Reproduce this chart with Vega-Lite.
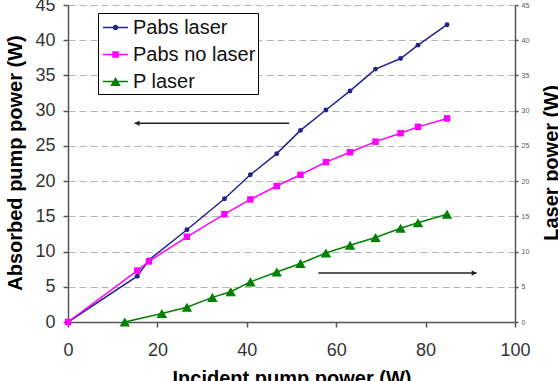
{
  "$schema": "https://vega.github.io/schema/vega-lite/v6.json",
  "width": 447,
  "height": 317,
  "autosize": {"type": "none"},
  "padding": {"left": 68, "top": 5, "right": 43, "bottom": 59},
  "background": "white",
  "config": {
    "font": "Liberation Sans",
    "view": {"stroke": null},
    "axis": {
      "domainColor": "#555555",
      "domainWidth": 1.5,
      "tickColor": "#555555",
      "tickWidth": 1.5,
      "labelFont": "Liberation Sans",
      "labelColor": "#333333",
      "labelFontSize": 18,
      "titleFont": "Liberation Sans",
      "titleFontWeight": "bold",
      "titleFontSize": 20,
      "titleColor": "#000000"
    },
    "legend": {
      "title": null,
      "orient": "none",
      "legendX": 30,
      "legendY": 8,
      "strokeColor": "#000000",
      "fillColor": "#ffffff",
      "padding": 2,
      "symbolOffset": 3,
      "symbolSize": 625,
      "symbolOpacity": 1,
      "symbolStrokeWidth": 0,
      "labelFont": "Liberation Sans",
      "labelFontSize": 20,
      "labelColor": "#111111",
      "labelOffset": 5,
      "rowPadding": 4
    }
  },
  "datasets": {
    "power": [
      {"series": "Pabs laser", "incident": 0, "power": 0},
      {"series": "Pabs laser", "incident": 15.5, "power": 6.5},
      {"series": "Pabs laser", "incident": 18.1, "power": 8.8},
      {"series": "Pabs laser", "incident": 26.6, "power": 13.1},
      {"series": "Pabs laser", "incident": 35.0, "power": 17.5},
      {"series": "Pabs laser", "incident": 40.8, "power": 20.9},
      {"series": "Pabs laser", "incident": 46.7, "power": 23.9},
      {"series": "Pabs laser", "incident": 52.0, "power": 27.2},
      {"series": "Pabs laser", "incident": 57.7, "power": 30.1},
      {"series": "Pabs laser", "incident": 63.1, "power": 32.8},
      {"series": "Pabs laser", "incident": 68.8, "power": 35.9},
      {"series": "Pabs laser", "incident": 74.4, "power": 37.4},
      {"series": "Pabs laser", "incident": 78.3, "power": 39.3},
      {"series": "Pabs laser", "incident": 84.8, "power": 42.2},
      {"series": "Pabs no laser", "incident": 0, "power": 0},
      {"series": "Pabs no laser", "incident": 15.5, "power": 7.3},
      {"series": "Pabs no laser", "incident": 18.1, "power": 8.6},
      {"series": "Pabs no laser", "incident": 26.6, "power": 12.1},
      {"series": "Pabs no laser", "incident": 35.0, "power": 15.3},
      {"series": "Pabs no laser", "incident": 40.8, "power": 17.4},
      {"series": "Pabs no laser", "incident": 46.7, "power": 19.3},
      {"series": "Pabs no laser", "incident": 52.0, "power": 20.9},
      {"series": "Pabs no laser", "incident": 57.7, "power": 22.7},
      {"series": "Pabs no laser", "incident": 63.1, "power": 24.1},
      {"series": "Pabs no laser", "incident": 68.8, "power": 25.6},
      {"series": "Pabs no laser", "incident": 74.4, "power": 26.8},
      {"series": "Pabs no laser", "incident": 78.3, "power": 27.7},
      {"series": "Pabs no laser", "incident": 84.8, "power": 28.9},
      {"series": "P laser", "incident": 12.7, "power": 0},
      {"series": "P laser", "incident": 21.0, "power": 1.2},
      {"series": "P laser", "incident": 26.6, "power": 2.1},
      {"series": "P laser", "incident": 32.3, "power": 3.5},
      {"series": "P laser", "incident": 36.4, "power": 4.3},
      {"series": "P laser", "incident": 40.8, "power": 5.7},
      {"series": "P laser", "incident": 46.7, "power": 7.1},
      {"series": "P laser", "incident": 52.0, "power": 8.3},
      {"series": "P laser", "incident": 57.7, "power": 9.8},
      {"series": "P laser", "incident": 63.1, "power": 10.9},
      {"series": "P laser", "incident": 68.8, "power": 12.0},
      {"series": "P laser", "incident": 74.4, "power": 13.3},
      {"series": "P laser", "incident": 78.3, "power": 14.1},
      {"series": "P laser", "incident": 84.8, "power": 15.3}
    ],
    "arrows": [
      {"dir": "left", "tail": 49.5, "head": 14.9, "level": 28.2},
      {"dir": "right", "tail": 56.0, "head": 91.4, "level": 6.95}
    ]
  },
  "layer": [
    {
      "data": {"name": "power"},
      "mark": {"type": "point", "filled": true, "opacity": 0, "size": 625},
      "encoding": {
        "color": {
          "field": "series",
          "type": "nominal",
          "scale": {
            "domain": ["Pabs laser", "Pabs no laser", "P laser"],
            "range": ["#22228a", "#ff00ff", "#008000"]
          }
        },
        "shape": {
          "field": "series",
          "type": "nominal",
          "scale": {
            "domain": ["Pabs laser", "Pabs no laser", "P laser"],
            "range": [
              "M-1,-0.06H1V0.06H-1ZM-0.22,0A0.22,0.22,0,1,1,0.22,0A0.22,0.22,0,1,1,-0.22,0Z",
              "M-1,-0.06H1V0.06H-1ZM-0.26,-0.26H0.26V0.26H-0.26Z",
              "M-1,-0.06H1V0.06H-1ZM0,-0.36L0.42,0.36L-0.42,0.36Z"
            ]
          }
        }
      }
    },
    {
      "data": {"name": "power"},
      "transform": [{"filter": "datum.series !== 'P laser'"}],
      "encoding": {
        "x": {
          "field": "incident",
          "type": "quantitative",
          "title": "Incident pump power (W)",
          "scale": {"domain": [0, 100], "nice": false},
          "axis": {
            "values": [0, 20, 40, 60, 80, 100],
            "tickSize": 5,
            "labelPadding": 14,
            "labelFlush": false,
            "grid": false,
            "titleY": 62,
            "titleBaseline": "alphabetic"
          }
        },
        "y": {
          "field": "power",
          "type": "quantitative",
          "title": "Absorbed pump power (W)",
          "scale": {"domain": [0, 45], "nice": false},
          "axis": {
            "orient": "left",
            "values": [0, 5, 10, 15, 20, 25, 30, 35, 40, 45],
            "tickSize": 5,
            "labelPadding": 8,
            "labelFlush": false,
            "grid": true,
            "gridDash": [7, 4],
            "gridColor": "#b4b4b4",
            "gridWidth": 1,
            "titleAngle": 270,
            "titleX": -47,
            "titleY": 157.5,
            "titleAlign": "center",
            "titleBaseline": "alphabetic"
          }
        },
        "color": {"field": "series", "type": "nominal"}
      },
      "layer": [
        {"mark": {"type": "line", "strokeWidth": 1.5}},
        {
          "transform": [{"filter": "datum.series === 'Pabs laser'"}],
          "mark": {"type": "point", "shape": "circle", "size": 24, "filled": true, "opacity": 1}
        },
        {
          "transform": [{"filter": "datum.series === 'Pabs no laser'"}],
          "mark": {"type": "point", "shape": "square", "size": 42, "filled": true, "opacity": 1}
        }
      ]
    },
    {
      "data": {"name": "arrows"},
      "encoding": {
        "y": {
          "field": "level",
          "type": "quantitative",
          "scale": {"domain": [0, 45], "nice": false},
          "axis": null
        }
      },
      "layer": [
        {
          "mark": {"type": "rule", "color": "#222222", "strokeWidth": 1.5},
          "encoding": {
            "x": {"field": "tail", "type": "quantitative", "title": "Incident pump power (W)"},
            "x2": {"field": "head"}
          }
        },
        {
          "transform": [{"filter": "datum.dir === 'left'"}],
          "mark": {"type": "point", "shape": "triangle-left", "filled": true, "color": "#222222", "size": 30, "opacity": 1, "xOffset": 2.5},
          "encoding": {
            "x": {"field": "head", "type": "quantitative", "title": "Incident pump power (W)"}
          }
        },
        {
          "transform": [{"filter": "datum.dir === 'right'"}],
          "mark": {"type": "point", "shape": "triangle-right", "filled": true, "color": "#222222", "size": 30, "opacity": 1, "xOffset": -2.5},
          "encoding": {
            "x": {"field": "head", "type": "quantitative", "title": "Incident pump power (W)"}
          }
        }
      ]
    },
    {
      "data": {"name": "power"},
      "transform": [{"filter": "datum.series === 'P laser'"}],
      "encoding": {
        "x": {"field": "incident", "type": "quantitative", "title": "Incident pump power (W)"},
        "y": {
          "field": "power",
          "type": "quantitative",
          "title": "Laser power (W)",
          "scale": {"domain": [0, 45], "nice": false},
          "axis": {
            "orient": "right",
            "values": [0, 5, 10, 15, 20, 25, 30, 35, 40, 45],
            "tickSize": 3,
            "labelPadding": 3,
            "labelFontSize": 7,
            "labelColor": "#555555",
            "labelFlush": false,
            "grid": false,
            "titleAngle": 270,
            "titleX": 42,
            "titleY": 157.5,
            "titleAlign": "center",
            "titleBaseline": "alphabetic"
          }
        },
        "color": {"field": "series", "type": "nominal"}
      },
      "layer": [
        {"mark": {"type": "line", "strokeWidth": 1.5}},
        {"mark": {"type": "point", "shape": "triangle-up", "size": 110, "filled": true, "opacity": 1}}
      ]
    }
  ],
  "resolve": {"scale": {"y": "independent"}, "axis": {"y": "independent"}}
}
